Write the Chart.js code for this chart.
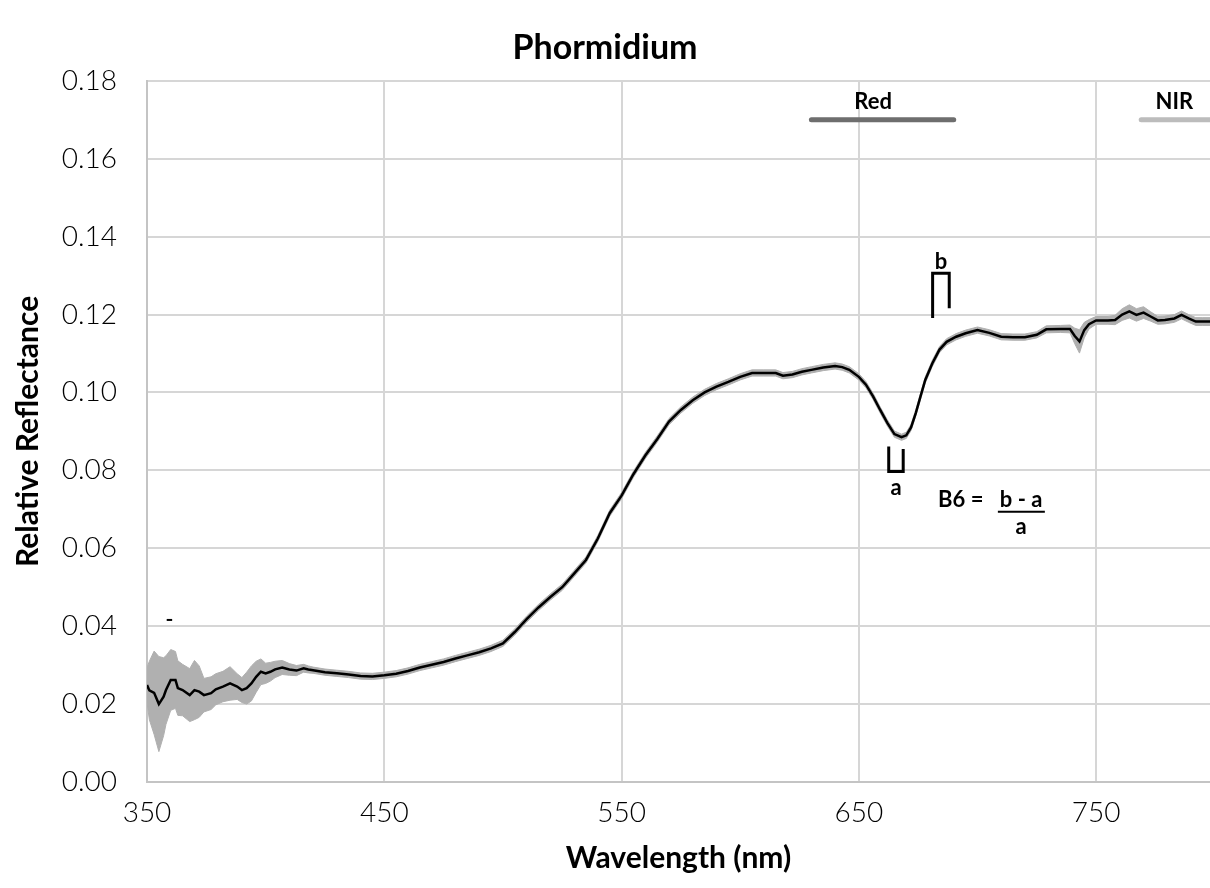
<!DOCTYPE html>
<html>
<head>
   <meta charset="utf-8">
   <script src="https://cdn.jsdelivr.net/npm/chart.js@4.4.1/dist/chart.umd.min.js"></script>
   <title>Phormidium</title>
   <style>
      html, body { margin: 0; padding: 0; background: #fff; }
   </style>
</head>
<body>
   <canvas id="spectrum" width="1210" height="888"></canvas>
<script>
   // wavelength (nm), mean reflectance and spread (half width of grey band)
   const wavelength = [350, 351, 353, 355, 357, 358, 360, 362, 363, 365, 368, 370, 372, 374, 377, 379, 382, 385, 388, 390,
      392, 394, 396, 398, 400, 402, 404, 407, 410, 413, 416, 418, 420, 425, 430, 435, 440, 445, 450, 455,
      460, 465, 470, 475, 480, 485, 490, 495, 500, 505, 510, 515, 520, 525, 530, 535, 540, 545, 550, 555,
      560, 565, 570, 575, 580, 585, 590, 595, 600, 605, 610, 615, 618, 622, 626, 630, 635, 640, 643, 646,
      650, 653, 656, 659, 662, 665, 668, 670, 672, 674, 676, 678, 681, 684, 687, 691, 695, 700, 705, 710,
      715, 720, 725, 729, 735, 739, 741, 743, 745, 747, 750, 755, 758, 761, 764, 767, 770, 773, 776, 779,
      783, 786, 789, 792, 795, 798];
   const reflectance = [0.0249, 0.0235, 0.0229, 0.0200, 0.0219, 0.0236, 0.0262, 0.0262, 0.0241, 0.0236, 0.0223, 0.0236, 0.0232, 0.0223, 0.0228, 0.0238, 0.0245, 0.0253, 0.0245, 0.0236,
      0.0241, 0.0253, 0.0270, 0.0283, 0.0279, 0.0283, 0.0289, 0.0294, 0.0289, 0.0286, 0.0292, 0.0289, 0.0287, 0.0282, 0.0279, 0.0276, 0.0272, 0.0271, 0.0274, 0.0278,
      0.0285, 0.0294, 0.0301, 0.0308, 0.0317, 0.0325, 0.0333, 0.0343, 0.0356, 0.0385, 0.0418, 0.0448, 0.0475, 0.0500, 0.0535, 0.0570, 0.0625, 0.0690, 0.0735, 0.0790,
      0.0838, 0.0880, 0.0925, 0.0955, 0.0980, 0.1000, 0.1015, 0.1027, 0.1040, 0.1050, 0.1050, 0.1050, 0.1043, 0.1046, 0.1053, 0.1058, 0.1064, 0.1068, 0.1065, 0.1058,
      0.1040, 0.1020, 0.0990, 0.0955, 0.0922, 0.0893, 0.0885, 0.0890, 0.0910, 0.0947, 0.0990, 0.1032, 0.1075, 0.1110, 0.1130, 0.1143, 0.1152, 0.1160, 0.1153, 0.1143,
      0.1142, 0.1142, 0.1148, 0.1162, 0.1163, 0.1163, 0.1145, 0.1131, 0.1160, 0.1175, 0.1185, 0.1185, 0.1186, 0.1200, 0.1208, 0.1199, 0.1205, 0.1195, 0.1185, 0.1186,
      0.1190, 0.1199, 0.1190, 0.1182, 0.1182, 0.1182];
   const spread = [0.0045, 0.0075, 0.0107, 0.0122, 0.0100, 0.0088, 0.0078, 0.0073, 0.0070, 0.0066, 0.0068, 0.0076, 0.0066, 0.0043, 0.0042, 0.0040, 0.0039, 0.0043, 0.0033, 0.0032,
      0.0041, 0.0045, 0.0040, 0.0033, 0.0026, 0.0024, 0.0021, 0.0018, 0.0015, 0.0013, 0.0010, 0.0009, 0.0008, 0.0008, 0.0008, 0.0008, 0.0008, 0.0008, 0.0008, 0.0008,
      0.0008, 0.0008, 0.0008, 0.0008, 0.0008, 0.0008, 0.0008, 0.0008, 0.0008, 0.0008, 0.0008, 0.0008, 0.0008, 0.0008, 0.0008, 0.0008, 0.0008, 0.0008, 0.0008, 0.0008,
      0.0008, 0.0008, 0.0008, 0.0008, 0.0008, 0.0008, 0.0008, 0.0008, 0.0008, 0.0008, 0.0008, 0.0008, 0.0008, 0.0008, 0.0008, 0.0008, 0.0008, 0.0008, 0.0008, 0.0008,
      0.0008, 0.0008, 0.0008, 0.0008, 0.0008, 0.0008, 0.0008, 0.0008, 0.0008, 0.0008, 0.0008, 0.0008, 0.0008, 0.0008, 0.0008, 0.0008, 0.0008, 0.0008, 0.0008, 0.0008,
      0.0008, 0.0008, 0.0008, 0.0009, 0.0009, 0.0010, 0.0020, 0.0030, 0.0020, 0.0012, 0.0010, 0.0010, 0.0012, 0.0015, 0.0017, 0.0016, 0.0015, 0.0012, 0.0010, 0.0010,
      0.0010, 0.0010, 0.0010, 0.0010, 0.0010, 0.0010];

   const xTicks = [350, 450, 550, 650, 750];
   const yTicks = [0, 0.02, 0.04, 0.06, 0.08, 0.10, 0.12, 0.14, 0.16, 0.18];

   // spectral bands marked above the curve
   const bandNames = ['Red', 'NIR'];
   const bandStart = [630, 769];
   const bandEnd = [690, 810];

   const meanPts = wavelength.map((w, i) => ({ x: w, y: reflectance[i] }));
   const upperPts = wavelength.map((w, i) => ({ x: w, y: reflectance[i] + spread[i] }));
   const lowerPts = wavelength.map((w, i) => ({ x: w, y: reflectance[i] - spread[i] }));

   const FONT = 'Lato, "Open Sans", sans-serif';

   // draws the band bars, the a/b brackets and the B6 formula
   const notes = {
      id: 'notes',
      afterDatasetsDraw(chart) {
         const ctx = chart.ctx;
         const xs = chart.scales.x, ys = chart.scales.y;
         const X = v => xs.getPixelForValue(v);
         const Y = v => ys.getPixelForValue(v);
         ctx.save();

         const barColors = ['#6e6e6e', '#bcbcbc'];
         ctx.lineCap = 'round';
         ctx.font = 'bold 22px ' + FONT;
         ctx.textAlign = 'center';
         ctx.textBaseline = 'middle';
         const labelPos = [656, 783];
         for (let i = 0; i < bandNames.length; i++) {
            ctx.strokeStyle = barColors[i];
            ctx.lineWidth = 5;
            ctx.beginPath();
            ctx.moveTo(X(bandStart[i]), Y(0.170));
            ctx.lineTo(X(bandEnd[i]), Y(0.170));
            ctx.stroke();
            ctx.fillStyle = '#000';
            ctx.fillText(bandNames[i], X(labelPos[i]), Y(0.1746));
         }

         ctx.strokeStyle = '#000';
         ctx.lineWidth = 3;
         ctx.lineCap = 'butt';
         // bracket b
         ctx.beginPath();
         ctx.moveTo(X(681.1), Y(0.1191));
         ctx.lineTo(X(681.1), Y(0.1306));
         ctx.lineTo(X(688.1), Y(0.1306));
         ctx.lineTo(X(688.1), Y(0.1216));
         ctx.stroke();
         // bracket a
         ctx.beginPath();
         ctx.moveTo(X(662.6), Y(0.0861));
         ctx.lineTo(X(662.6), Y(0.0797));
         ctx.lineTo(X(668.7), Y(0.0797));
         ctx.lineTo(X(668.7), Y(0.0855));
         ctx.stroke();
         // stray dash near the left
         ctx.lineWidth = 2;
         ctx.beginPath();
         ctx.moveTo(X(358.3), Y(0.0416));
         ctx.lineTo(X(360.6), Y(0.0416));
         ctx.stroke();

         ctx.fillStyle = '#000';
         ctx.font = 'bold 22px ' + FONT;
         ctx.fillText('b', X(684.6), Y(0.1335));
         ctx.fillText('a', X(665.7), Y(0.0754));
         ctx.textAlign = 'right';
         ctx.fillText('B6 =', X(702.5), Y(0.0724));
         ctx.textAlign = 'center';
         ctx.fillText('b - a', X(718.4), Y(0.0724));
         ctx.fillText('a', X(718.4), Y(0.0655));
         ctx.lineWidth = 2;
         ctx.beginPath();
         ctx.moveTo(X(708.6), Y(0.0694));
         ctx.lineTo(X(728.4), Y(0.0694));
         ctx.stroke();
         ctx.restore();
      }
   };

   new Chart(document.getElementById('spectrum'), {
      type: 'line',
      data: {
         datasets: [
            {
               label: 'upper',
               data: upperPts,
               borderColor: '#b0b0b0',
               borderWidth: 1,
               backgroundColor: '#b0b0b0',
               pointRadius: 0,
               fill: 1,
               order: 2
            },
            {
               label: 'lower',
               data: lowerPts,
               borderColor: '#b0b0b0',
               borderWidth: 1,
               pointRadius: 0,
               fill: false,
               order: 1
            },
            {
               label: 'Phormidium',
               data: meanPts,
               borderColor: '#000',
               borderWidth: 2.5,
               pointRadius: 0,
               fill: false,
               order: 0
            }
         ]
      },
      options: {
         responsive: false,
         animation: false,
         devicePixelRatio: 1,
         layout: { padding: { left: 0, right: 0, top: 0, bottom: 0 } },
         plugins: {
            legend: { display: false },
            tooltip: { enabled: false },
            title: {
               display: true,
               text: 'Phormidium',
               color: '#000',
               font: { family: FONT, size: 34, weight: 'bold' },
               padding: { top: 28, bottom: 12 }
            }
         },
         scales: {
            x: {
               type: 'linear',
               min: 350,
               max: 798,
               afterBuildTicks: s => { s.ticks = xTicks.map(v => ({ value: v })); },
               afterFit: s => { s.height = 106; },
               grid: { color: '#d6d6d6', lineWidth: 2, drawTicks: false },
               border: { color: '#c4c4c4', width: 2 },
               ticks: {
                  color: '#000',
                  padding: 14,
                  font: { family: FONT, size: 28, weight: 300 },
                  callback: v => String(v)
               },
               title: {
                  display: true,
                  text: 'Wavelength (nm)',
                  color: '#000',
                  font: { family: FONT, size: 30, weight: 'bold' },
                  padding: { top: 0, bottom: 12 }
               }
            },
            y: {
               min: 0,
               max: 0.18,
               afterBuildTicks: s => { s.ticks = yTicks.map(v => ({ value: v })); },
               afterFit: s => { s.width = 147; },
               grid: { color: '#d6d6d6', lineWidth: 2, drawTicks: false },
               border: { color: '#c4c4c4', width: 2 },
               ticks: {
                  color: '#000',
                  padding: 30,
                  font: { family: FONT, size: 28, weight: 300 },
                  callback: v => v.toFixed(2)
               },
               title: {
                  display: true,
                  text: 'Relative Reflectance',
                  color: '#000',
                  font: { family: FONT, size: 30, weight: 'bold' },
                  padding: { top: 10, bottom: 0 }
               }
            }
         }
      },
      plugins: [notes]
   });
</script>
</body>
</html>
